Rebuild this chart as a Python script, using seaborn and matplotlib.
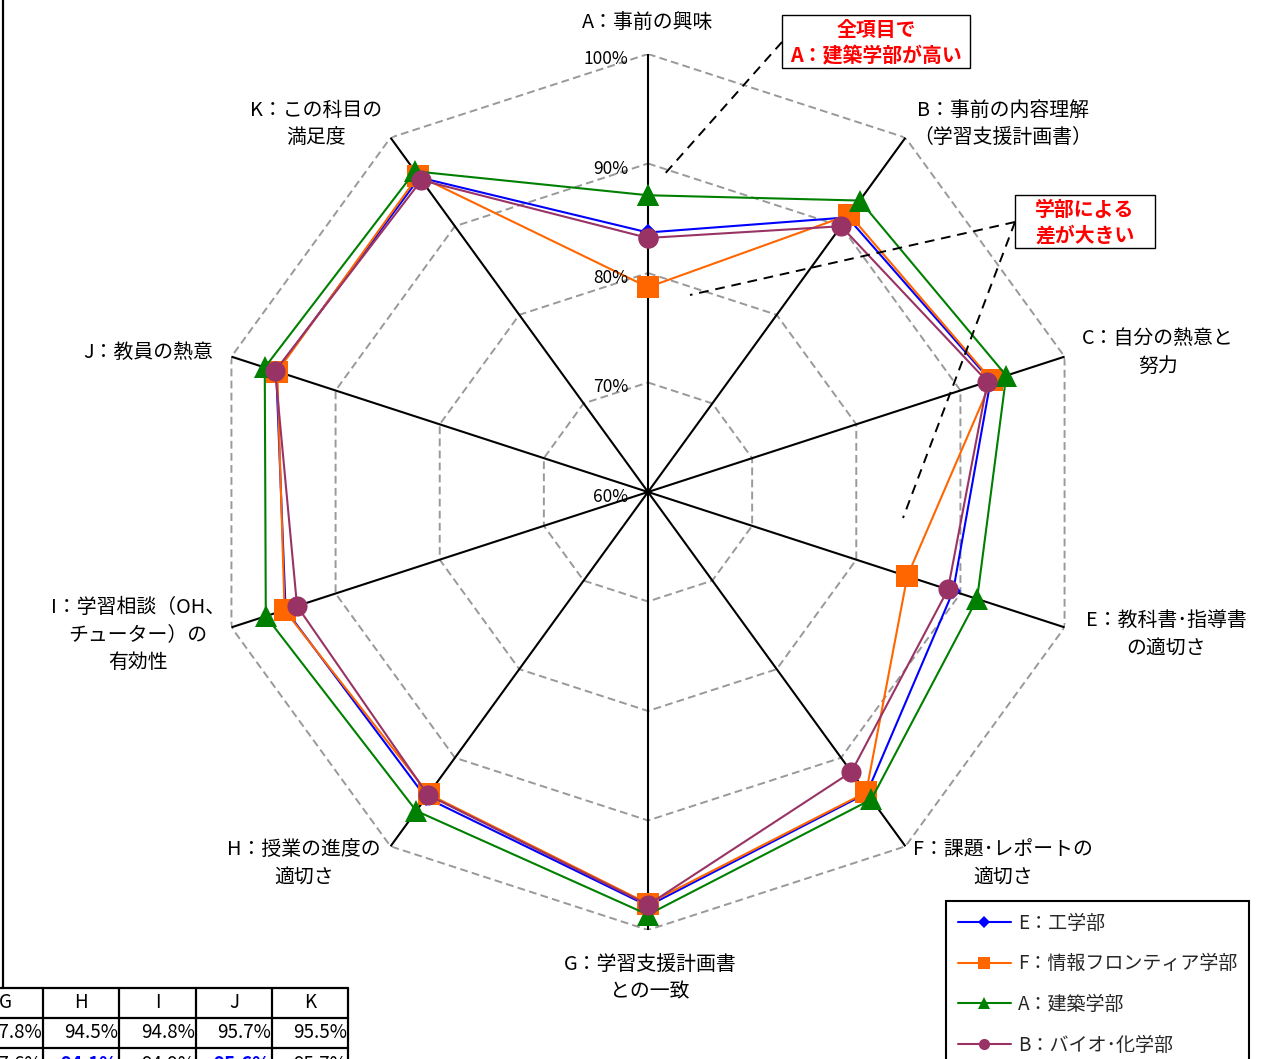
import numpy as np
import pandas as pd
import matplotlib
matplotlib.use("Agg")
import matplotlib.pyplot as plt
import seaborn as sns
from matplotlib.lines import Line2D
from matplotlib.patches import Rectangle

# ---------------- data ----------------
categories = ["A：事前の興味", "B：事前の内容理解\n（学習支援計画書）", "C：自分の熱意と\n努力",
              "E：教科書･指導書\nの適切さ", "F：課題･レポートの\n適切さ", "G：学習支援計画書\nとの一致",
              "H：授業の進度の\n適切さ", "I：学習相談（OH、\nチューター）の\n有効性", "J：教員の熱意",
              "K：この科目の\n満足度"]
series_names = ["E：工学部", "F：情報フロンティア学部", "A：建築学部", "B：バイオ･化学部"]
eng = [83.7, 91.0, 92.9, 89.3, 94.0, 97.8, 94.5, 94.8, 95.7, 95.5]
info = [78.7, 91.3, 93.0, 84.9, 93.9, 97.6, 94.1, 94.9, 95.6, 95.7]
arch = [87.1, 92.9, 94.4, 91.6, 94.7, 98.6, 96.0, 96.7, 96.8, 96.2]
bio = [83.2, 90.0, 92.6, 88.8, 91.6, 97.7, 94.2, 93.7, 95.8, 95.2]
r_ticks = [60, 70, 80, 90, 100]
r_tick_labels = ["60%", "70%", "80%", "90%", "100%"]
table_cols = ["G", "H", "I", "J", "K"]
table_row1 = eng[5:]
table_row2 = info[5:]
note1 = "全項目で\nA：建築学部が高い"
note2 = "学部による\n差が大きい"

colors = ["#0000FF", "#FF6600", "#008000", "#993366"]
markers = ["D", "s", "^", "o"]
msizes = [8, 16, 16, 14.5]
leg_msizes = [6.5, 8, 8, 8]

# ---------------- style ----------------
sns.set_theme(style="white")
plt.rcParams["font.family"] = ["Noto Sans CJK JP", "DejaVu Sans"]

W, H = 1269, 1059
fig = plt.figure(figsize=(W / 100, H / 100), dpi=100)
fig.patch.set_facecolor("white")


def fx(x):
    return x / W


def fy(y):
    return 1 - y / H


cx, cy, R = 648, 492, 438
ax = fig.add_axes([fx(cx - R), fy(cy + R), 2 * R / W, 2 * R / H], projection="polar")
ax.set_theta_zero_location("N")
ax.set_theta_direction(-1)
ax.patch.set_alpha(0)

n = len(categories)
theta = np.arange(n) * 2 * np.pi / n
theta_c = np.append(theta, 2 * np.pi)

# polygon grid
for lv in r_ticks[1:]:
    ax.plot(theta_c, [lv] * (n + 1), color="#999999", lw=1.4, ls=(0, (4, 2.2)), zorder=1)
# spokes
for t in theta:
    ax.plot([t, t], [r_ticks[0], r_ticks[-1]], color="black", lw=1.5, zorder=2)

# series
for name, vals, c, m, ms in zip(series_names, [eng, info, arch, bio], colors, markers, msizes):
    df = pd.DataFrame({"theta": theta_c, "value": list(vals) + [vals[0]]})
    sns.lineplot(data=df, x="theta", y="value", ax=ax, sort=False, estimator=None,
                 color=c, lw=1.5, marker=m, markersize=ms, markeredgewidth=0,
                 legend=False, zorder=3)

ax.set_ylim(r_ticks[0], r_ticks[-1])
ax.grid(False)
ax.spines["polar"].set_visible(False)
ax.set_xticks([])
ax.set_yticks([])
ax.set_xlabel("")
ax.set_ylabel("")

# radial labels
for v, lab in zip(r_ticks, r_tick_labels):
    ypix = cy - (v - r_ticks[0]) / (r_ticks[-1] - r_ticks[0]) * R + 5
    fig.text(fx(628), fy(ypix), lab, ha="right", va="center", fontsize=12.5, color="black")

# category labels
label_pos = [(648, 22), (1003, 124), (1158, 352), (1166, 634), (1003, 863),
             (650, 978), (304, 863), (138, 635), (148, 352), (316, 124)]
for lab, (x, y) in zip(categories, label_pos):
    fig.text(fx(x), fy(y), lab, ha="center", va="center", fontsize=14.3,
             linespacing=1.42, color="black")

# annotations
for (x0, y0, w, h), txt in zip([(782, 15, 188, 53), (1015, 195, 140, 53)], [note1, note2]):
    fig.patches.append(Rectangle((fx(x0), fy(y0 + h)), w / W, h / H, transform=fig.transFigure,
                                 facecolor="white", edgecolor="black", lw=1.0, zorder=5))
    fig.text(fx(x0 + w / 2), fy(y0 + h / 2 + 1), txt, ha="center", va="center", fontsize=14.3,
             fontweight="bold", color="#FF0000", linespacing=1.25, zorder=6)

for (x0, y0, x1, y1) in [(782, 42, 662, 177), (1015, 222, 690, 295), (1015, 222, 903, 518)]:
    fig.add_artist(Line2D([fx(x0), fx(x1)], [fy(y0), fy(y1)], transform=fig.transFigure,
                          color="black", lw=1.4, ls=(0, (5, 3.5)), zorder=4))

# legend
handles = [Line2D([], [], color=c, lw=1.5, marker=m, markersize=ms, markeredgewidth=0)
           for c, m, ms in zip(colors, markers, leg_msizes)]
leg = fig.legend(handles, series_names, loc="upper left", bbox_to_anchor=(fx(946), fy(901)),
                 frameon=True, fancybox=False, edgecolor="black", framealpha=1,
                 borderaxespad=0, fontsize=13.7, handlelength=2.8, handletextpad=0.38,
                 labelspacing=1.03, borderpad=0.62)
leg.get_frame().set_linewidth(1.5)

# left border line and table fragment
fig.add_artist(Line2D([fx(3), fx(3)], [fy(0), fy(988)], transform=fig.transFigure,
                      color="black", lw=1.6))
col_edges = [-33, 43, 119, 196, 272, 348]
for yl in [988, 1018, 1048]:
    fig.add_artist(Line2D([fx(0), fx(348)], [fy(yl), fy(yl)], transform=fig.transFigure,
                          color="black", lw=1.6))
for xl in col_edges[1:]:
    fig.add_artist(Line2D([fx(xl), fx(xl)], [fy(988), fy(1062)], transform=fig.transFigure,
                          color="black", lw=1.6))
for i, col in enumerate(table_cols):
    xc = (col_edges[i] + col_edges[i + 1]) / 2
    fig.text(fx(xc), fy(1003), col, ha="center", va="center", fontsize=13.5, color="black")
    fig.text(fx(col_edges[i + 1] - 1), fy(1033), f"{table_row1[i]:.1f}%", ha="right",
             va="center", fontsize=13.5, color="black")
    bold = col in ("H", "J")
    fig.text(fx(col_edges[i + 1] - 1), fy(1064), f"{table_row2[i]:.1f}%", ha="right",
             va="center", fontsize=13.5, color="#0000FF" if bold else "black",
             fontweight="bold" if bold else "normal")

fig.savefig("out.png", dpi=100)
